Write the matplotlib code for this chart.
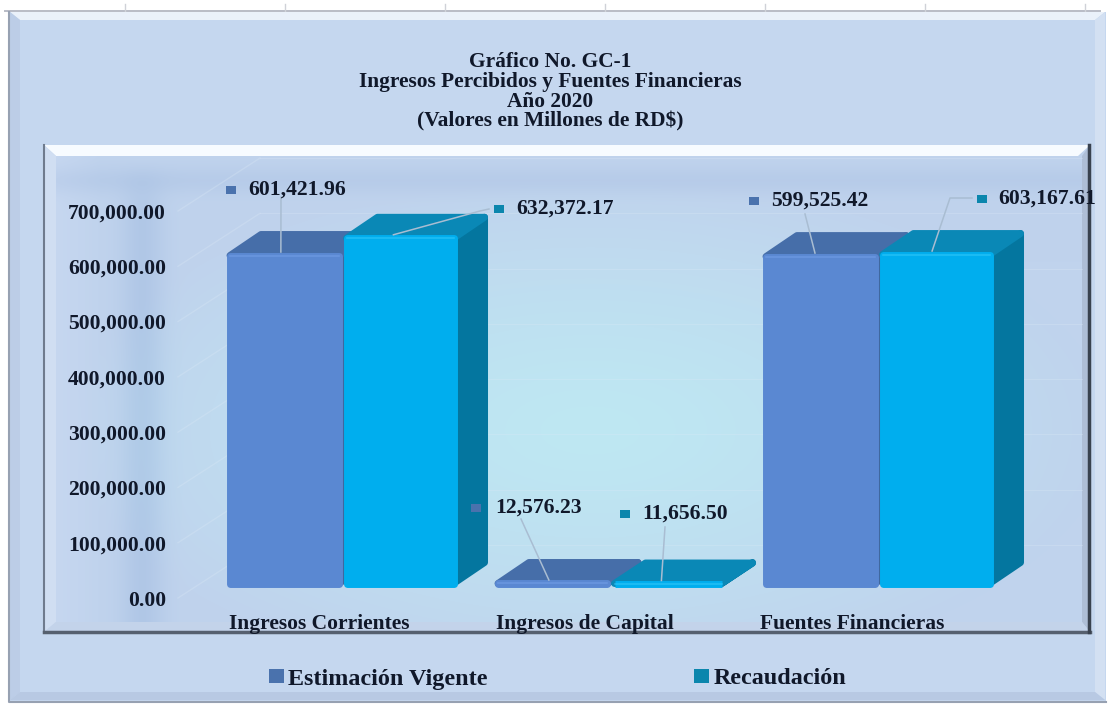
import numpy as np
import matplotlib
matplotlib.use("Agg")
import matplotlib.pyplot as plt
from matplotlib.patches import Patch, Polygon, Rectangle

# --- Data ---
categories = ["Ingresos Corrientes", "Ingresos de Capital", "Fuentes Financieras"]
estimacion = [601421.96, 12576.23, 599525.42]
recaudacion = [632372.17, 11656.50, 603167.61]
series_names = ["Estimación Vigente", "Recaudación"]
y_ticks = [0, 100000, 200000, 300000, 400000, 500000, 600000, 700000]
title_lines = ["Gráfico No. GC-1", "Ingresos Percibidos y Fuentes Financieras",
               "Año 2020", "(Valores en Millones de RD$)"]

# --- Layout and styles (pixels of the 1109x706 picture) ---
W, H = 1109, 706
FONT = "Liberation Serif"
BLUE = {"front": "#5a88d2", "top": "#466ea9", "side": "#3f689f", "key": "#4a72ad", "light": "#6f9ce4"}
CYAN = {"front": "#00aeee", "top": "#0a88b6", "side": "#04769f", "key": "#0b86ad", "light": "#2cc4f8"}
TEXT = "#10182a"

# bar geometry
PX_PER_GROUP = 268.0
PX_PER_VALUE = 0.557 / 1000
BLUE_W = 116 / PX_PER_GROUP
CYAN_W = 114 / PX_PER_GROUP
FIRST_SPLIT_PX = 342.5
BASE_PX = 587
DEPTH_X = 31 / PX_PER_GROUP
DEPTH_Y = 21 / PX_PER_VALUE
ROUND_X = 3.5 / PX_PER_GROUP
ROUND_Y = 3.5 / PX_PER_VALUE
LABEL_SHIFT = [-0.085, -0.095, -0.097]

# value label: key x, text x, y, leader path in pixels after the bar anchor
LABELS_EST = [(231, 248, 190, [(281, 197)]),
              (476, 495, 508, [(521, 519)]),
              (754, 771, 201, [(805, 214)])]
LABELS_REC = [(499, 516, 209, [(480, 211), (489, 209)]),
              (625, 642, 514, [(665, 527)]),
              (982, 998, 199, [(950, 198), (972, 198)])]
ANCHOR_DX_EST = [-0.23, -0.23, -0.237]
ANCHOR_DX_REC = [0.19, 0.19, 0.2]


def px_rect(left, top, right, bottom):
    return [left / W, 1 - bottom / H, (right - left) / W, (bottom - top) / H]


def make_background():
    yy, xx = np.mgrid[0:H, 0:W]
    img = np.ones((H, W, 3))
    img[12:701, 10:1106] = np.array([197, 215, 239]) / 255

    # inner panel gradient
    center = np.array([190, 232, 243]) / 255
    edge = np.array([192, 211, 237]) / 255
    r = np.sqrt(((xx - 590) / 520.0) ** 2 + ((yy - 430) / 250.0) ** 2)
    t = np.clip(r, 0, 1)[..., None] ** 1.3
    inner = center * (1 - t) + edge * t
    band_left = (np.exp(-((xx - 142) / 22.0) ** 2) * np.clip((yy - 160) / 60.0, 0, 1))[..., None]
    band_far = np.clip((100 - xx) / 45.0, 0, 1)[..., None]
    band_top = np.exp(-((yy - 180) / 14.0) ** 2)[..., None]
    inner = inner - band_left * 0.06 * np.array([1, 0.75, 0.4])
    inner = inner * (1 - band_far) + np.array([198, 215, 240]) / 255 * band_far
    inner = inner - band_top * 0.035 * np.array([1, 0.8, 0.45])
    mask = (xx >= 44) & (xx <= 1090) & (yy >= 145) & (yy <= 632)
    img[mask] = inner[mask]
    return np.clip(img, 0, 1)


def draw_frame(bg):
    bg.imshow(make_background(), extent=(0, W, H, 0), aspect="auto", zorder=0)
    # ruler at the very top
    bg.plot([5, 1100], [11, 11], color="#b9bcc6", lw=1.4, zorder=1)
    for x in np.arange(125, 1100, 160):
        bg.plot([x, x], [4, 14], color="#d0d2d8", lw=1, zorder=1)

    # outer bevel
    bg.add_patch(Polygon([(10, 12), (1105, 12), (1095, 20), (20, 20)], fc="#eaf1fa", ec="none", zorder=1))
    bg.add_patch(Polygon([(10, 12), (20, 20), (20, 692), (10, 700)], fc="#bccde7", ec="none", zorder=1))
    bg.add_patch(Polygon([(1105, 12), (1095, 20), (1095, 692), (1105, 700)], fc="#d3e0f2", ec="none", zorder=1))
    bg.add_patch(Polygon([(10, 700), (20, 692), (1095, 692), (1105, 700)], fc="#b8c9e3", ec="none", zorder=1))
    bg.plot([9, 9, 1106], [12, 702, 702], color="#97a1b2", lw=1.5, zorder=1)

    # inner bevel
    bg.add_patch(Polygon([(44, 145), (1090, 145), (1078, 156), (56, 156)], fc="#f7fbff", ec="none", zorder=1))
    bg.add_patch(Polygon([(44, 145), (56, 156), (56, 622), (44, 632)], fc="#d0def2", ec="none", zorder=1))
    bg.add_patch(Polygon([(1090, 145), (1082, 156), (1082, 622), (1090, 632)], fc="#aebed6", ec="none", zorder=1))
    bg.add_patch(Polygon([(44, 632), (56, 622), (1082, 622), (1090, 632)], fc="#c3d3ea", ec="none", zorder=1))
    bg.plot([44, 44], [145, 632], color="#6f7b8e", lw=1.5, zorder=1)
    bg.plot([44, 1090], [632, 632], color="#56606f", lw=2.5, zorder=1)
    bg.plot([1089, 1089], [145, 632], color="#39424f", lw=2.5, zorder=1)


def draw_bar(ax, left, width, value, colors):
    # polygons are inset, the thick round-joined edge brings them back out with soft corners
    x0 = left + ROUND_X
    x1 = left + width - ROUND_X
    y0 = ROUND_Y
    y1 = max(value - ROUND_Y, y0)
    y2 = value + DEPTH_Y - ROUND_Y
    kw = dict(lw=5, joinstyle="round")
    ax.add_patch(Polygon([(x1, y0), (x1 + DEPTH_X, y0 + DEPTH_Y), (x1 + DEPTH_X, y2), (x1, y1)],
                         fc=colors["side"], ec=colors["side"], **kw))
    ax.add_patch(Polygon([(x0, y1), (x0 + DEPTH_X, y2), (x1 + DEPTH_X, y2), (x1, y1)],
                         fc=colors["top"], ec=colors["top"], **kw))
    ax.add_patch(Polygon([(x0, y0), (x1, y0), (x1, y1), (x0, y1)],
                         fc=colors["front"], ec=colors["front"], **kw))
    # small highlight along the top edge of the front face
    ax.plot([x0, x1], [y1, y1], color=colors["light"], lw=1.5, alpha=0.6, solid_capstyle="round")


def draw_label(ax, text, value, x_anchor, colors, layout):
    key_x, text_x, y, path = layout
    fig = ax.figure
    px = ax.transData.transform((x_anchor, value))
    xs = [px[0]] + [p[0] for p in path]
    ys = [px[1]] + [H - p[1] for p in path]
    fig.add_artist(plt.Line2D(xs, ys, transform=None, color="#a9bdd2", lw=1.1, zorder=5))
    fig.add_artist(Rectangle((key_x - 5, H - y - 4), 10, 8, transform=None, fc=colors["key"], ec="none", zorder=6))
    fig.text(text_x / W, 1 - y / H, text, fontsize=15.6, fontweight="bold", family=FONT,
             color=TEXT, va="center", ha="left", zorder=6)


def plot_chart():
    fig = plt.figure(figsize=(W / 100, H / 100), dpi=100)

    bg = fig.add_axes([0, 0, 1, 1])
    bg.set_xlim(0, W)
    bg.set_ylim(H, 0)
    bg.axis("off")
    draw_frame(bg)

    # tick axis sits on the front of the floor, walls are offset from it
    tick_ax = fig.add_axes(px_rect(166, 211, 1082, 598))
    tick_ax.patch.set_alpha(0)
    tick_ax.set_xlim(0, 916)
    tick_ax.set_ylim(0, 700000)
    tick_ax.set_yticks(y_ticks)
    tick_ax.set_yticklabels([f"{v:,.2f}" for v in y_ticks], fontsize=15.6, fontweight="bold",
                            family=FONT, color=TEXT)
    tick_ax.tick_params(axis="y", length=0, pad=0)
    tick_ax.set_xticks([])
    for spine in tick_ax.spines.values():
        spine.set_visible(False)
    wall_dy = 53 / (387 / 700000)
    for v in y_ticks:
        tick_ax.plot([94, 916], [v + wall_dy, v + wall_dy], color="#dbe9f6", lw=0.8, alpha=0.3, clip_on=False)
        tick_ax.plot([12, 94], [v, v + wall_dy], color="#dbe9f6", lw=1.0, alpha=0.3, clip_on=False)

    # bars, in data units
    ax = fig.add_axes(px_rect(44, 145, 1090, 608))
    ax.patch.set_alpha(0)
    ax.set_xlim((44 - FIRST_SPLIT_PX) / PX_PER_GROUP, (1090 - FIRST_SPLIT_PX) / PX_PER_GROUP)
    ax.set_ylim((BASE_PX - 608) / PX_PER_VALUE, (BASE_PX - 145) / PX_PER_VALUE)
    for spine in ax.spines.values():
        spine.set_visible(False)
    ax.set_yticks([])
    ax.set_xticks([i + s for i, s in enumerate(LABEL_SHIFT)])
    ax.set_xticklabels(categories, fontsize=15.5, fontweight="bold", family=FONT, color=TEXT)
    ax.tick_params(axis="x", length=0, pad=4)

    for i in range(len(categories)):
        draw_bar(ax, i - BLUE_W, BLUE_W, estimacion[i], BLUE)
        draw_bar(ax, i + 0.002, CYAN_W, recaudacion[i], CYAN)

    for i in range(len(categories)):
        draw_label(ax, f"{estimacion[i]:,.2f}", estimacion[i], i + ANCHOR_DX_EST[i], BLUE, LABELS_EST[i])
        draw_label(ax, f"{recaudacion[i]:,.2f}", recaudacion[i], i + ANCHOR_DX_REC[i], CYAN, LABELS_REC[i])

    fig.text(550 / W, 1 - 92 / H, "\n".join(title_lines), fontsize=15.4, fontweight="bold", family=FONT,
             color=TEXT, ha="center", va="center", linespacing=0.98)

    handles = [Patch(fc=BLUE["key"], label=series_names[0]), Patch(fc=CYAN["key"], label=series_names[1])]
    fig.legend(handles=handles, ncol=2, frameon=False, loc="center left", bbox_to_anchor=(269 / W, 1 - 679 / H),
               prop={"family": FONT, "weight": "bold", "size": 17.4}, labelcolor=TEXT, borderaxespad=0, borderpad=0,
               handlelength=0.6, handleheight=0.5, handletextpad=0.2, columnspacing=8.55)

    fig.savefig("out.png", dpi=100)


if __name__ == "__main__":
    plot_chart()
